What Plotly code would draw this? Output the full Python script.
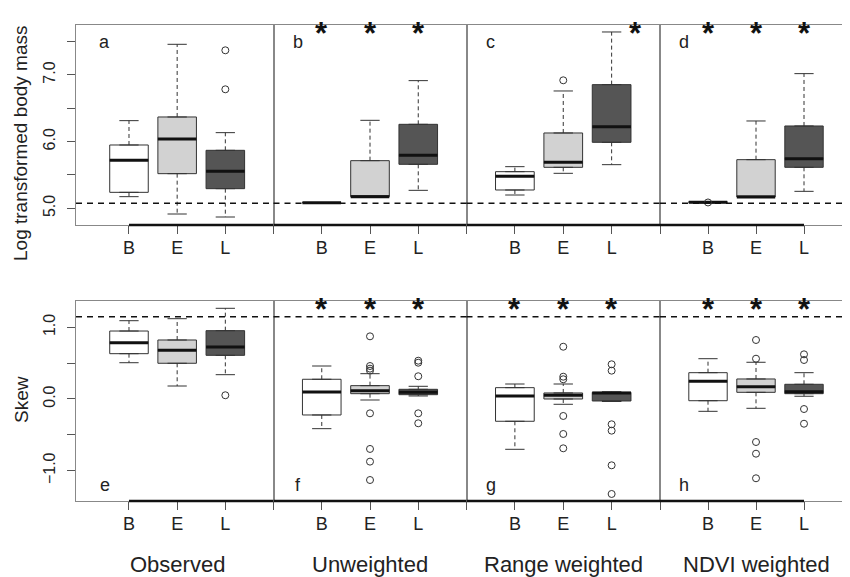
import plotly.graph_objects as go

# ---------------- data ----------------
groups = ["B", "E", "L"]
methods = ["Observed", "Unweighted", "Range weighted", "NDVI weighted"]
top_letters = ["a", "b", "c", "d"]
bottom_letters = ["e", "f", "g", "h"]

# Log transformed body mass (per method: B, E, L)
mass_lower = [[5.175, 4.915, 4.87], [5.085, 5.17, 5.27], [5.20, 5.525, 5.655], [5.08, 5.17, 5.255]]
mass_q1 = [[5.24, 5.52, 5.295], [5.085, 5.175, 5.66], [5.275, 5.615, 5.99], [5.085, 5.17, 5.615]]
mass_median = [[5.72, 6.04, 5.555], [5.085, 5.175, 5.795], [5.48, 5.69, 6.225], [5.09, 5.17, 5.745]]
mass_q3 = [[5.95, 6.37, 5.87], [5.085, 5.715, 6.26], [5.55, 6.13, 6.855], [5.10, 5.73, 6.235]]
mass_upper = [[6.315, 7.46, 6.135], [5.085, 6.32, 6.915], [5.625, 6.76, 7.645], [5.10, 6.31, 7.02]]
mass_outliers = [[[], [], [7.37, 6.785]], [[], [], []], [[], [6.92], []], [[5.088], [], []]]
mass_sig = [[0, 0, 0], [1, 1, 1], [0, 0, 1], [1, 1, 1]]
mass_null = 5.075

# Skew
skew_lower = [[0.506, 0.181, 0.339], [-0.414, -0.014, 0.042], [-0.702, -0.074, -0.035], [-0.172, -0.13, 0.038]]
skew_q1 = [[0.632, 0.498, 0.609], [-0.223, 0.074, 0.06], [-0.311, 0.0, -0.028], [-0.024, 0.093, 0.074]]
skew_median = [[0.785, 0.679, 0.725], [0.098, 0.116, 0.093], [0.042, 0.051, 0.084], [0.247, 0.172, 0.102]]
skew_q3 = [[0.948, 0.823, 0.953], [0.275, 0.186, 0.135], [0.158, 0.084, 0.093], [0.367, 0.279, 0.205]]
skew_upper = [[1.092, 1.12, 1.265], [0.46, 0.353, 0.177], [0.209, 0.209, 0.10], [0.562, 0.512, 0.367]]
skew_outliers = [
    [[], [], [0.052]],
    [[], [0.874, 0.46, 0.423, 0.395, -0.2, -0.697, -0.874, -1.13], [0.534, 0.506, 0.317, -0.2, -0.339]],
    [[], [0.729, 0.311, 0.275, -0.237, -0.488, -0.688], [0.484, 0.395, -0.353, -0.442, -0.925, -1.325]],
    [[], [0.823, 0.562, -0.6, -0.763, -1.106], [0.623, 0.544, -0.14, -0.345]],
]
skew_sig = [[0, 0, 0], [1, 1, 1], [1, 1, 1], [1, 1, 1]]
skew_null = 1.148

mass_ticks = [5.0, 5.5, 6.0, 6.5, 7.0, 7.5]
mass_ticktext = ["5.0", "", "6.0", "", "7.0", ""]
skew_ticks = [-1.0, -0.5, 0.0, 0.5, 1.0]
skew_ticktext = ["\u22121.0", "", "0.0", "", "1.0"]

# ---------------- style / layout ----------------
OFF = 8                      # page body margin of the html page
W, H = 850 - OFF, 577 - OFF  # figure size so that it fits the window


def px_x(p):
    return (p - OFF) / W


def px_y(p):
    return 1 - (p - OFF) / H


FONT = "Liberation Sans, Arial, sans-serif"
fills = ["#ffffff", "#d2d2d2", "#555555"]
col_px = [(76, 273.5), (273.5, 466.5), (466.5, 660), (660, 850)]
col_range = [(-0.1, 4.0), (0, 4), (0, 4), (0, 3.958)]
row_px = [(24.5, 225), (300.7, 501)]
row_range = [(4.75, 7.757), (-1.423, 1.371)]
positions = [1, 2, 3]
HALF = 0.4
CAP = 0.2

rows = [
    dict(lower=mass_lower, q1=mass_q1, med=mass_median, q3=mass_q3, upper=mass_upper,
         out=mass_outliers, sig=mass_sig, null=mass_null, letters=top_letters,
         ticks=mass_ticks, ticktext=mass_ticktext, letter_y=0.913),
    dict(lower=skew_lower, q1=skew_q1, med=skew_median, q3=skew_q3, upper=skew_upper,
         out=skew_outliers, sig=skew_sig, null=skew_null, letters=bottom_letters,
         ticks=skew_ticks, ticktext=skew_ticktext, letter_y=0.08),
]

fig = go.Figure()
layout = dict(width=W, height=H, margin=dict(l=0, r=0, t=0, b=0),
              paper_bgcolor="white", plot_bgcolor="white", showlegend=False,
              font=dict(family=FONT, color="#222"), boxmode="overlay")
shapes, annotations = [], []

k = 0
for r, R in enumerate(rows):
    for c in range(4):
        k += 1
        xa = "x" if k == 1 else f"x{k}"
        ya = "y" if k == 1 else f"y{k}"
        xkey = "xaxis" if k == 1 else f"xaxis{k}"
        ykey = "yaxis" if k == 1 else f"yaxis{k}"
        x0, x1 = col_px[c]
        y0, y1 = row_px[r]
        tv = [1, 2, 3] if c == 0 else [0, 1, 2, 3]
        tt = groups if c == 0 else [""] + groups
        layout[xkey] = dict(domain=[px_x(x0), min(1.0, px_x(x1))], range=list(col_range[c]),
                            anchor=ya, tickvals=tv, ticktext=tt, ticks="outside", ticklen=8,
                            tickcolor="#555", tickwidth=1, showline=True, mirror=True,
                            linecolor="#888", linewidth=1, showgrid=False, zeroline=False,
                            tickfont=dict(size=18, family=FONT, color="#222"),
                            fixedrange=True)
        ydict = dict(domain=[px_y(y1), px_y(y0)], range=list(row_range[r]), anchor=xa,
                     showline=True, mirror=True, linecolor="#888", linewidth=1,
                     showgrid=False, zeroline=False, fixedrange=True)
        if c == 0:
            ydict.update(tickvals=R["ticks"], ticktext=R["ticktext"], ticks="outside",
                         ticklen=8, tickcolor="#555", tickangle=-90,
                         tickfont=dict(size=16, family=FONT, color="#222"),
                         ticklabelstandoff=6)
        else:
            ydict.update(showticklabels=False, ticks="")
        layout[ykey] = ydict

        # null dashed line
        shapes.append(dict(type="line", xref=f"{xa} domain", x0=0, x1=1, yref=ya,
                           y0=R["null"], y1=R["null"], layer="above",
                           line=dict(color="#111", width=1.5, dash="6px,5px")))
        # thick axis segment (from first tick of first panel to last tick of last panel)
        sx0 = 1 if c == 0 else col_range[c][0]
        sx1 = 3 if c == 3 else col_range[c][1]
        shapes.append(dict(type="line", xref=xa, x0=sx0, x1=sx1, yref=f"{ya} domain",
                           y0=0, y1=0, layer="above", line=dict(color="#111", width=2.5)))

        for g in range(3):
            pos = positions[g]
            lo, q1, md, q3, hi = (R["lower"][c][g], R["q1"][c][g], R["med"][c][g],
                                  R["q3"][c][g], R["upper"][c][g])
            # whiskers (dashed)
            fig.add_trace(go.Scatter(x=[pos, pos, None, pos, pos], y=[q3, hi, None, q1, lo],
                                     mode="lines", xaxis=xa, yaxis=ya, hoverinfo="skip",
                                     line=dict(color="#333", width=1, dash="4px,3px")))
            # staples
            fig.add_trace(go.Scatter(x=[pos - CAP, pos + CAP, None, pos - CAP, pos + CAP],
                                     y=[hi, hi, None, lo, lo], mode="lines", xaxis=xa,
                                     yaxis=ya, hoverinfo="skip",
                                     line=dict(color="#333", width=1)))
            # box body
            fig.add_trace(go.Box(x=[pos], q1=[q1], median=[md], q3=[q3], lowerfence=[q1],
                                 upperfence=[q3], width=2 * HALF, fillcolor=fills[g],
                                 line=dict(color="#333", width=1), boxpoints=False,
                                 xaxis=xa, yaxis=ya, hoverinfo="skip"))
            # median (bold)
            fig.add_trace(go.Scatter(x=[pos - HALF, pos + HALF], y=[md, md], mode="lines",
                                     xaxis=xa, yaxis=ya, hoverinfo="skip",
                                     line=dict(color="#111", width=3)))
            # outliers
            outs = R["out"][c][g]
            if outs:
                fig.add_trace(go.Scatter(x=[pos] * len(outs), y=outs, mode="markers",
                                         xaxis=xa, yaxis=ya, hoverinfo="skip",
                                         marker=dict(symbol="circle-open", size=7,
                                                     color="#333", line=dict(width=1))))
            # significance asterisk (moved aside when the whisker reaches the top)
            if R["sig"][c][g]:
                top = row_range[r][1]
                shift = 0.5 if hi > top - 0.125 * (top - row_range[r][0]) else 0.0
                annotations.append(dict(text="<b>*</b>", x=pos + shift, xref=xa,
                                        y=1, yref=f"{ya} domain", yanchor="middle",
                                        yshift=-9, showarrow=False,
                                        font=dict(size=31, family=FONT, color="#111")))
        # panel letter
        annotations.append(dict(text=R["letters"][c], x=0.5, xref=xa, y=R["letter_y"],
                                yref=f"{ya} domain", showarrow=False, xanchor="center",
                                yanchor="middle", font=dict(size=18, family=FONT, color="#222")))
        # method label under bottom row
        if r == 1:
            annotations.append(dict(text=methods[c], x=2, xref=xa, y=px_y(564), yref="paper",
                                    showarrow=False, xanchor="center", yanchor="middle",
                                    font=dict(size=22, family=FONT, color="#222")))

annotations.append(dict(text="Log transformed body mass", x=px_x(21), xref="paper",
                        y=px_y(143), yref="paper", textangle=-90, showarrow=False,
                        xanchor="center", yanchor="middle",
                        font=dict(size=19, family=FONT, color="#222")))
annotations.append(dict(text="Skew", x=px_x(21), xref="paper", y=px_y(400), yref="paper",
                        textangle=-90, showarrow=False, xanchor="center", yanchor="middle",
                        font=dict(size=19, family=FONT, color="#222")))

layout["shapes"] = shapes
layout["annotations"] = annotations
fig.update_layout(**layout)

# pull the group labels a little closer to the axis, as in the reference
for i in range(1, 9):
    key = "xaxis" if i == 1 else f"xaxis{i}"
    try:
        fig.layout[key].ticklabelstandoff = -2
    except ValueError:
        fig.layout[key].ticklabelstandoff = 0

fig.write_html("out.html")
